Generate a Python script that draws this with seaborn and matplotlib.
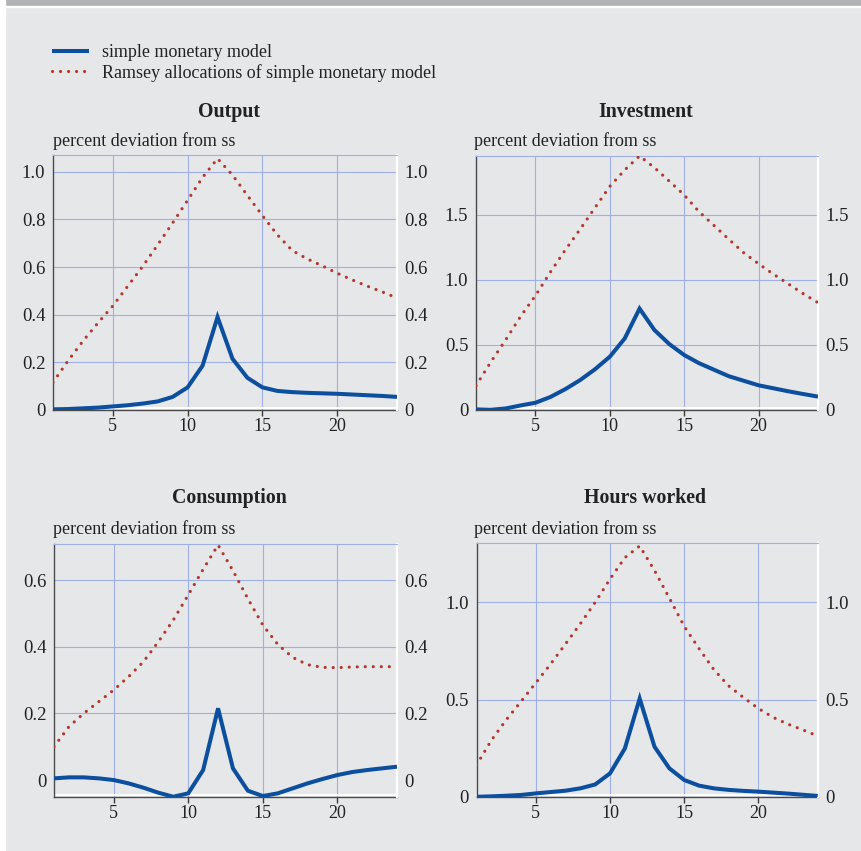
import matplotlib
matplotlib.use("Agg")
import matplotlib.pyplot as plt
import matplotlib.transforms as mtransforms
from matplotlib.patches import Rectangle
from matplotlib.ticker import FixedLocator, FuncFormatter
import seaborn as sns
import pandas as pd

# ---- data -------------------------------------------------------------
periods = list(range(1, 25))

output_simple = [0.003, 0.004, 0.007, 0.010, 0.015, 0.020, 0.027, 0.036, 0.055, 0.095, 0.186, 0.390,
                 0.215, 0.135, 0.095, 0.080, 0.075, 0.072, 0.070, 0.068, 0.065, 0.062, 0.059, 0.055]
output_ramsey = [0.116, 0.206, 0.289, 0.365, 0.437, 0.520, 0.603, 0.693, 0.785, 0.880, 0.976, 1.055,
                 0.986, 0.900, 0.816, 0.735, 0.669, 0.634, 0.605, 0.574, 0.546, 0.520, 0.496, 0.470]

investment_simple = [0.005, 0.002, 0.012, 0.035, 0.056, 0.100, 0.160, 0.230, 0.313, 0.410, 0.550, 0.780,
                     0.615, 0.507, 0.423, 0.360, 0.310, 0.260, 0.225, 0.190, 0.167, 0.144, 0.123, 0.103]
investment_ramsey = [0.187, 0.370, 0.540, 0.720, 0.880, 1.060, 1.230, 1.390, 1.556, 1.720, 1.846, 1.954,
                     1.864, 1.760, 1.654, 1.525, 1.420, 1.313, 1.210, 1.125, 1.045, 0.970, 0.895, 0.825]

consumption_simple = [0.005, 0.008, 0.008, 0.005, 0.000, -0.010, -0.023, -0.038, -0.050, -0.040, 0.030, 0.215,
                      0.035, -0.032, -0.048, -0.040, -0.025, -0.010, 0.003, 0.015, 0.024, 0.030, 0.035, 0.040]
consumption_ramsey = [0.100, 0.160, 0.200, 0.235, 0.270, 0.310, 0.355, 0.415, 0.480, 0.555, 0.632, 0.705,
                      0.628, 0.544, 0.465, 0.407, 0.368, 0.346, 0.338, 0.337, 0.339, 0.340, 0.340, 0.340]

hours_simple = [0.000, 0.002, 0.005, 0.009, 0.017, 0.024, 0.031, 0.043, 0.063, 0.120, 0.248, 0.505,
                0.257, 0.146, 0.086, 0.057, 0.043, 0.035, 0.030, 0.026, 0.021, 0.016, 0.010, 0.004]
hours_ramsey = [0.163, 0.290, 0.395, 0.490, 0.586, 0.683, 0.786, 0.890, 1.000, 1.120, 1.230, 1.290,
                1.164, 1.022, 0.877, 0.762, 0.654, 0.570, 0.510, 0.454, 0.408, 0.373, 0.344, 0.312]

series_labels = ["simple monetary model", "Ramsey allocations of simple monetary model"]
panel_titles = ["Output", "Investment", "Consumption", "Hours worked"]
y_unit_label = "percent deviation from ss"
x_ticks = [5, 10, 15, 20]

# ---- style ------------------------------------------------------------
sns.set_style("white")
plt.rcParams["font.family"] = ["Liberation Serif", "DejaVu Serif"]

BG = "#e6e7e9"
BLUE = "#0b4f9e"
RED = "#b3372c"
GRID = "#9fb0e4"
W, H = 861, 851

fig = plt.figure(figsize=(W / 100, H / 100), dpi=100, facecolor=BG)
fig.patches.append(Rectangle((0, 1 - 6 / H), 1, 6 / H, transform=fig.transFigure,
                             color="#b1b2b4", zorder=0))
fig.patches.append(Rectangle((0, 1 - 7 / H), 1, 1 / H, transform=fig.transFigure,
                             color="white", zorder=0))
fig.patches.append(Rectangle((0, 0), 5 / W, 1, transform=fig.transFigure,
                             color="white", zorder=0))


def px_rect(left, top, right, bottom):
    return [left / W, 1 - bottom / H, (right - left) / W, (bottom - top) / H]


panels = [
    dict(title=panel_titles[0], simple=output_simple, ramsey=output_ramsey,
         rect=px_rect(53, 155, 397, 410), ylim=(0, 1.07),
         yticks=[0, 0.2, 0.4, 0.6, 0.8, 1.0], title_xy=(229, 112), sub_xy=(53, 141)),
    dict(title=panel_titles[1], simple=investment_simple, ramsey=investment_ramsey,
         rect=px_rect(476, 155.7, 818, 410), ylim=(0, 1.956),
         yticks=[0, 0.5, 1.0, 1.5], title_xy=(646, 112), sub_xy=(474, 141)),
    dict(title=panel_titles[2], simple=consumption_simple, ramsey=consumption_ramsey,
         rect=px_rect(54, 544, 397, 796.7), ylim=(-0.05, 0.708),
         yticks=[0, 0.2, 0.4, 0.6], title_xy=(229, 498), sub_xy=(53, 529)),
    dict(title=panel_titles[3], simple=hours_simple, ramsey=hours_ramsey,
         rect=px_rect(476.5, 542.7, 817.7, 796.7), ylim=(0, 1.307),
         yticks=[0, 0.5, 1.0], title_xy=(645, 498), sub_xy=(474, 529)),
]


def fmt(v, _pos):
    return "0" if abs(v) < 1e-9 else f"{v:.1f}"


handles = None
for p in panels:
    ax = fig.add_axes(p["rect"])
    ax.set_facecolor(BG)
    df = pd.DataFrame({"period": periods, "simple": p["simple"], "ramsey": p["ramsey"]})

    sns.lineplot(data=df, x="period", y="ramsey", ax=ax, color=RED, lw=2.3,
                 label=series_labels[1], zorder=3)
    sns.lineplot(data=df, x="period", y="simple", ax=ax, color=BLUE, lw=2.9,
                 label=series_labels[0], zorder=4)
    red_line, blue_line = ax.lines[0], ax.lines[1]
    red_line.set_linestyle((0, (0.01, 2.5)))
    red_line.set_dash_capstyle("round")
    blue_line.set_solid_joinstyle("miter")
    blue_line.set_solid_capstyle("butt")

    if handles is None:
        handles = [blue_line, red_line]
    ax.get_legend().remove()

    ax.set_xlim(1, 24)
    ax.set_ylim(*p["ylim"])
    ax.xaxis.set_major_locator(FixedLocator(x_ticks))
    ax.yaxis.set_major_locator(FixedLocator(p["yticks"]))
    ax.yaxis.set_major_formatter(FuncFormatter(fmt))
    ax.set_xlabel("")
    ax.set_ylabel("")

    ax.grid(True, color=GRID, lw=0.8, zorder=1)
    for tick_val, gl in zip(p["yticks"], ax.yaxis.get_gridlines()):
        if abs(tick_val - p["ylim"][0]) > 1e-9 and tick_val == 0:
            gl.set_visible(False)

    ax.tick_params(axis="x", direction="out", length=4, width=1, color="#3a3a3a",
                   labelsize=13, pad=2, bottom=True)
    ax.tick_params(axis="y", left=False, right=False, labelleft=True, labelright=True,
                   labelsize=13.5, pad=2)
    for lab in ax.get_yticklabels() + ax.get_xticklabels():
        lab.set_color("#222222")

    ax.spines["left"].set_color("#4a4a4a")
    ax.spines["left"].set_linewidth(1.0)
    ax.spines["bottom"].set_color("#4a4a4a")
    ax.spines["bottom"].set_linewidth(1.0)
    ax.spines["right"].set_color("white")
    ax.spines["right"].set_linewidth(1.6)
    ax.spines["top"].set_color(GRID)
    ax.spines["top"].set_linewidth(0.8)
    ax.spines["bottom"].set_zorder(2)
    shift = mtransforms.ScaledTranslation(0, 1.3 / 72, fig.dpi_scale_trans)
    ax.plot([0, 1], [0, 0], transform=ax.transAxes + shift, color="white", lw=1.4,
            clip_on=False, zorder=2)

    fig.text(p["title_xy"][0] / W, 1 - p["title_xy"][1] / H, p["title"],
             ha="center", va="center", fontsize=14.3, fontweight="bold", color="#222222")
    fig.text(p["sub_xy"][0] / W, 1 - p["sub_xy"][1] / H, y_unit_label,
             ha="left", va="center", fontsize=13, color="#222222")

leg = fig.legend(handles, series_labels, loc="upper left",
                 bbox_to_anchor=(52 / W, 1 - 44 / H), frameon=False, fontsize=13,
                 handlelength=2.05, handletextpad=0.72, labelspacing=0.15,
                 borderpad=0, borderaxespad=0)
for t in leg.get_texts():
    t.set_color("#222222")

fig.savefig("out.png", dpi=100, facecolor=BG)
